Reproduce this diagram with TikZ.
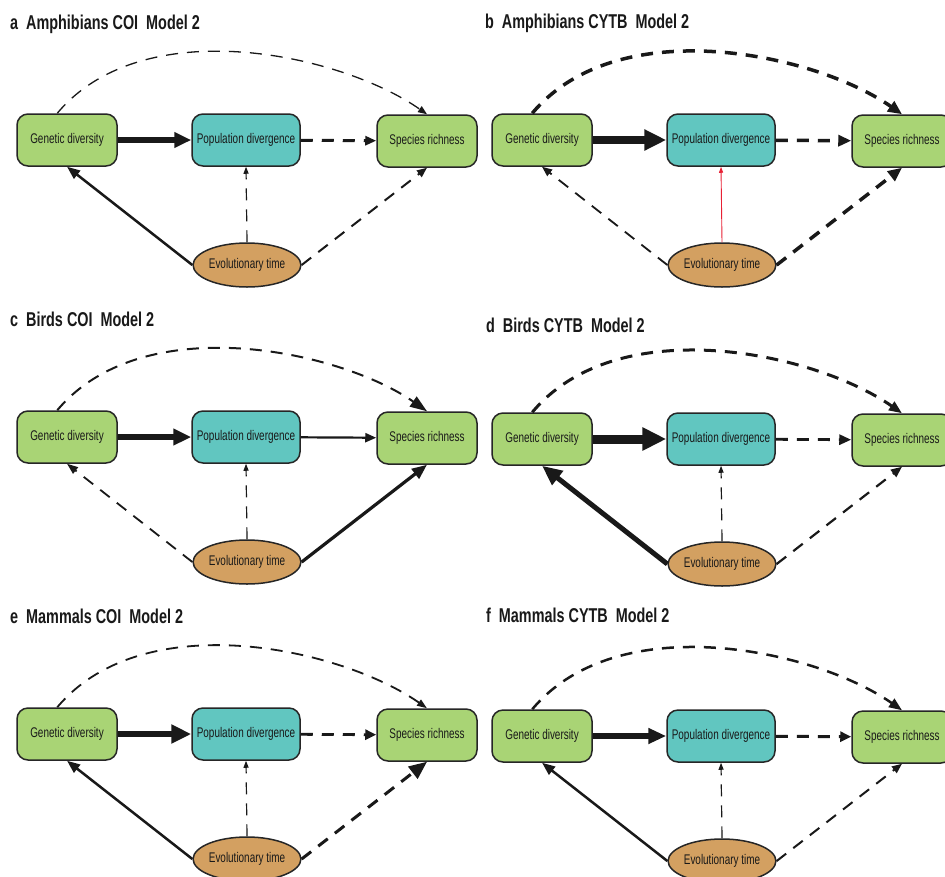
\documentclass[tikz,border=0pt]{standalone}
\usepackage{fontspec}
\setmainfont{Liberation Sans}
\newfontfamily\cond[FakeStretch=0.71]{Liberation Sans}
\newfontfamily\condt[FakeStretch=0.72]{Liberation Sans}
\usetikzlibrary{arrows.meta,shapes.geometric}
\definecolor{gfill}{RGB}{169,212,117}
\definecolor{tfill}{RGB}{97,198,192}
\definecolor{efill}{RGB}{211,160,97}
\definecolor{redline}{RGB}{232,32,52}
\tikzset{
  box/.style={draw=black!85, line width=1.5pt, rounded corners=11pt, minimum height=52pt, inner sep=0pt,
    font=\cond\fontsize{14}{16}\selectfont, text=black!90},
  gbox/.style={box, fill=gfill, minimum width=100pt},
  tbox/.style={box, fill=tfill, minimum width=108pt},
  ebox/.style={ellipse, draw=black!85, line width=1.5pt, fill=efill, minimum width=107pt, minimum height=44pt,
    inner sep=0pt, font=\cond\fontsize{14}{16}\selectfont, text=black!90},
  dsh/.style={dash pattern=on 12pt off 9pt},
  conn/.style n args={3}{draw=black!90, line width=#1pt, -{Triangle[length=#2pt,width=#3pt]}},
  ttl/.style={anchor=base west, inner sep=0pt, font=\condt\bfseries\fontsize{20}{23}\selectfont, text=black!90},
  arc/.style={to path={.. controls +(50:134) and +(145:105) .. (\tikztotarget)}}
}
\newcommand\mknodes[1]{%
  \node[gbox] (#1gd) at (67,-140) {Genetic diversity};
  \node[tbox] (#1pd) at (246,-140) {Population divergence};
  \node[gbox] (#1sr) at (427,-141) {Species richness};
  \node[ebox] (#1et) at (247,-265) {Evolutionary time};
}
\begin{document}
\begin{tikzpicture}[x=1pt,y=1pt]
\clip (0,0) rectangle (945,-876);
\fill[white] (0,0) rectangle (945,-876);
% titles
\node[ttl] (ta) at (10,-29) {a~~Amphibians COI~~Model 2};
\node[ttl] (tb) at (485,-28) {b~~Amphibians CYTB~~Model 2};
\node[ttl] (tc) at (10,-326) {c~~Birds COI~~Model 2};
\node[ttl] (td) at (486,-332) {d~~Birds CYTB~~Model 2};
\node[ttl] (te) at (10,-623) {e~~Mammals COI~~Model 2};
\node[ttl] (tf) at (486,-622) {f~~Mammals CYTB~~Model 2};
% panel a
\begin{scope}[shift={(0,0)}]
  \mknodes{a}
  \draw[dsh, conn={1.3}{9}{7}] (agd.110) to[arc] (asr.north);
  \draw[conn={6.5}{17}{15}] (agd) -- (apd);
  \draw[dsh, conn={3}{11}{9}] (apd) -- (asr);
  \draw[dsh, conn={1.2}{7}{5}] (aet.north) -- (apd.south);
  \draw[conn={2.5}{13}{10}] (aet.west) -- (agd.south);
  \draw[dsh, conn={2}{10}{8}] (aet.east) -- (asr.south);
\end{scope}
% panel b
\begin{scope}[shift={(475,0)}]
  \mknodes{b}
  \draw[dsh, conn={3.5}{14}{12}] (bgd.110) to[arc] (bsr.north);
  \draw[conn={7.5}{22}{20}] (bgd) -- (bpd);
  \draw[dsh, conn={3.5}{13}{11}] (bpd) -- (bsr);
  \draw[conn={0.9}{6}{4}, draw=redline, -{Triangle[length=6pt,width=4pt,fill=redline]}] (bet.north) -- (bpd.south);
  \draw[dsh, conn={1.8}{10}{8}] (bet.west) -- (bgd.south);
  \draw[dsh, conn={3.5}{14}{12}] (bet.east) -- (bsr.south);
\end{scope}
% panel c
\begin{scope}[shift={(0,-297)}]
  \mknodes{c}
  \draw[dsh, conn={2}{17}{12}] (cgd.110) to[arc] (csr.north);
  \draw[conn={6}{18}{16}] (cgd) -- (cpd);
  \draw[conn={2.2}{11}{9}] (cpd) -- (csr);
  \draw[dsh, conn={1.2}{7}{5}] (cet.north) -- (cpd.south);
  \draw[dsh, conn={1.8}{11}{8}] (cet.west) -- (cgd.south);
  \draw[conn={3.2}{15}{12}] (cet.east) -- (csr.south);
\end{scope}
% panel d
\begin{scope}[shift={(475,-299)}]
  \mknodes{d}
  \draw[dsh, conn={3}{13}{10}] (dgd.110) to[arc] (dsr.north);
  \draw[conn={9}{24}{22}] (dgd) -- (dpd);
  \draw[dsh, conn={2.8}{12}{10}] (dpd) -- (dsr);
  \draw[dsh, conn={1.2}{7}{5}] (det.north) -- (dpd.south);
  \draw[conn={5}{20}{17}] (det.west) -- (dgd.south);
  \draw[dsh, conn={2.2}{11}{9}] (det.east) -- (dsr.south);
\end{scope}
% panel e
\begin{scope}[shift={(0,-594)}]
  \mknodes{e}
  \draw[dsh, conn={1.8}{10}{7}] (egd.110) to[arc] (esr.north);
  \draw[conn={6.5}{20}{18}] (egd) -- (epd);
  \draw[dsh, conn={2.8}{11}{10}] (epd) -- (esr);
  \draw[dsh, conn={1.2}{7}{5}] (eet.north) -- (epd.south);
  \draw[conn={2.5}{13}{10}] (eet.west) -- (egd.south);
  \draw[dsh, conn={3}{18}{15}] (eet.east) -- (esr.south);
\end{scope}
% panel f
\begin{scope}[shift={(475,-596)}]
  \mknodes{f}
  \draw[dsh, conn={2.5}{13}{10}] (fgd.110) to[arc] (fsr.north);
  \draw[conn={6}{18}{15}] (fgd) -- (fpd);
  \draw[dsh, conn={3}{11}{10}] (fpd) -- (fsr);
  \draw[dsh, conn={1.2}{7}{5}] (fet.north) -- (fpd.south);
  \draw[conn={2.5}{13}{10}] (fet.west) -- (fgd.south);
  \draw[dsh, conn={2}{10}{8}] (fet.east) -- (fsr.south);
\end{scope}
\end{tikzpicture}
\end{document}
